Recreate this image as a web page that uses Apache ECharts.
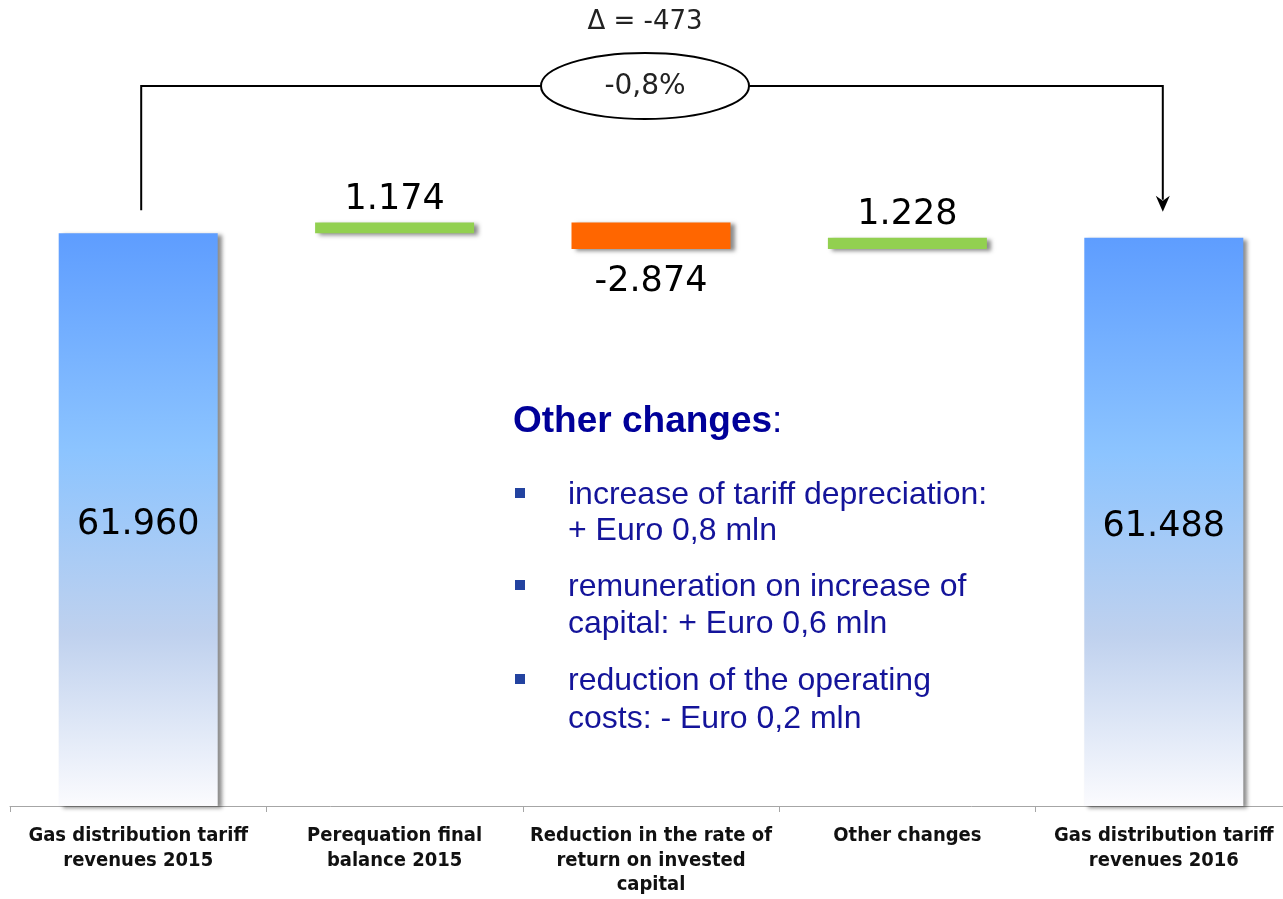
<!DOCTYPE html>
<html>
<head>
<meta charset="utf-8">
<script src="https://cdn.jsdelivr.net/npm/echarts@6/dist/echarts.min.js"></script>
<style>
  html, body { margin: 0; padding: 0; background: #ffffff; overflow: hidden; width: 1283px; height: 899px; }
  #chart { width: 1292px; height: 899px; }
</style>
</head>
<body>
<div id="chart"></div>
<script>
// ---- data ----
const categories = [
  'Gas distribution tariff\nrevenues 2015',
  'Perequation final\nbalance 2015',
  'Reduction in the rate of\nreturn on invested\ncapital',
  'Other changes',
  'Gas distribution tariff\nrevenues 2016'
];
const values = [61960, 1174, -2874, 1228, 61488];
const kinds = ['total', 'delta', 'delta', 'delta', 'total'];
const deltaLabel = 'Δ = -473';
const percentLabel = '-0,8%';
const noteTitle = 'Other changes';
const noteLines = [
  ['increase of tariff depreciation:', '+ Euro 0,8 mln'],
  ['remuneration on increase of', 'capital: + Euro 0,6 mln'],
  ['reduction of the operating', 'costs: - Euro 0,2 mln']
];

// ---- waterfall construction ----
const baseData = [];
const barData = [];
let running = 0;
function fmt(v) {
  const s = Math.abs(v).toString().replace(/\B(?=(\d{3})+(?!\d))/g, '.');
  return (v < 0 ? '-' : '') + s;
}
const blueGrad = new echarts.graphic.LinearGradient(0, 0, 0, 1, [
  { offset: 0, color: '#5e9dff' },
  { offset: 0.38, color: '#8cc4ff' },
  { offset: 0.7, color: '#bfd1ee' },
  { offset: 1, color: '#fbfbfe' }
]);
const valueFont = { fontFamily: 'DejaVu Sans', fontSize: 35, color: '#000' };
values.forEach((v, i) => {
  let base, h, color, pos, dist = 5, off = [0, 0];
  if (kinds[i] === 'total') {
    base = 0; h = v; running = v; color = blueGrad; pos = 'inside'; off = [0, 5];
  } else if (v >= 0) {
    base = running; h = v; running += v; color = '#92d050'; pos = 'top';
  } else {
    running += v; base = running; h = -v; color = '#ff6600'; pos = 'bottom'; dist = 15;
  }
  baseData.push(base);
  barData.push({
    value: h,
    itemStyle: { color: color },
    label: Object.assign({ show: true, position: pos, distance: dist, offset: off, formatter: fmt(v) }, valueFont)
  });
});

const chart = echarts.init(document.getElementById('chart'), null, { renderer: 'canvas' });
const option = {
  backgroundColor: '#ffffff',
  animation: false,
  grid: { left: 10, right: 0, top: 159, bottom: 93, containLabel: false },
  xAxis: {
    type: 'category',
    data: categories,
    boundaryGap: true,
    axisLine: { show: true, lineStyle: { color: '#a6a6a6', width: 1 } },
    axisTick: { show: true, length: 6, interval: 0, lineStyle: { color: '#a6a6a6' } },
    axisLabel: {
      interval: 0, margin: 18, color: '#111',
      fontFamily: '"DejaVu Sans Condensed", "DejaVu Sans"', fontWeight: 'bold', fontSize: 20, lineHeight: 24.5
    },
    splitLine: { show: false }
  },
  yAxis: { type: 'value', min: 0, max: 70000, show: false, splitLine: { show: false } },
  series: [
    {
      type: 'bar', stack: 'wf', data: baseData, barWidth: 159,
      itemStyle: { color: 'transparent' }, silent: true
    },
    {
      type: 'bar', stack: 'wf', data: barData, barWidth: 159,
      itemStyle: {
        shadowColor: 'rgba(0,0,0,0.45)', shadowBlur: 4, shadowOffsetX: 4, shadowOffsetY: 2
      }
    }
  ]
};
chart.setOption(option);

// ---- annotations ----
const x0 = chart.convertToPixel({ xAxisIndex: 0 }, 0) + 3;
const x4 = chart.convertToPixel({ xAxisIndex: 0 }, 4) - 1;
const y0 = chart.convertToPixel({ yAxisIndex: 0 }, values[0]) - 23;
const y4 = chart.convertToPixel({ yAxisIndex: 0 }, values[4]) - 26;
const lineY = 86;
const cx = 645;

const graphics = [
  {
    type: 'polyline', z: 10,
    shape: { points: [[x0, y0], [x0, lineY], [x4, lineY], [x4, y4 - 12]] },
    style: { stroke: '#000', lineWidth: 2, fill: null }
  },
  {
    type: 'polygon', z: 10,
    shape: { points: [[x4 - 7, y4 - 16], [x4, y4 - 11], [x4 + 7, y4 - 16], [x4, y4]] },
    style: { fill: '#000' }
  },
  {
    type: 'ellipse', z: 11,
    shape: { cx: cx, cy: lineY, rx: 104, ry: 33 },
    style: { fill: '#fff', stroke: '#000', lineWidth: 2 }
  },
  {
    type: 'text', z: 12, x: cx, y: lineY + 1,
    style: { text: percentLabel, font: '28px "DejaVu Sans"', fill: '#222',
      align: 'center', verticalAlign: 'middle', textAlign: 'center', textVerticalAlign: 'middle' }
  },
  {
    type: 'text', z: 12, x: cx, y: 22,
    style: { text: deltaLabel, font: '26px "DejaVu Sans"', fill: '#222',
      align: 'center', verticalAlign: 'middle', textAlign: 'center', textVerticalAlign: 'middle' }
  },
  {
    type: 'text', z: 12, x: 513, y: 422,
    style: {
      text: '{b|' + noteTitle + '}{n|:}',
      rich: {
        b: { fontFamily: 'Liberation Sans', fontWeight: 'bold', fontSize: 37, fill: '#000099', color: '#000099' },
        n: { fontFamily: 'Liberation Sans', fontSize: 37, fill: '#000099', color: '#000099' }
      },
      align: 'left', verticalAlign: 'middle', textAlign: 'left', textVerticalAlign: 'middle'
    }
  }
];
const lineYs = [[495, 531], [587, 624], [681, 719]];
noteLines.forEach((pair, i) => {
  graphics.push({
    type: 'rect', z: 12,
    shape: { x: 515, y: lineYs[i][0] - 7, width: 10, height: 10 },
    style: { fill: '#2343a0' }
  });
  pair.forEach((t, j) => {
    graphics.push({
      type: 'text', z: 12, x: 568, y: lineYs[i][j],
      style: { text: t, font: '32px "Liberation Sans"', fill: '#14149a',
        align: 'left', verticalAlign: 'middle', textAlign: 'left', textVerticalAlign: 'middle' }
    });
  });
});
chart.setOption({ graphic: graphics });
</script>
</body>
</html>
